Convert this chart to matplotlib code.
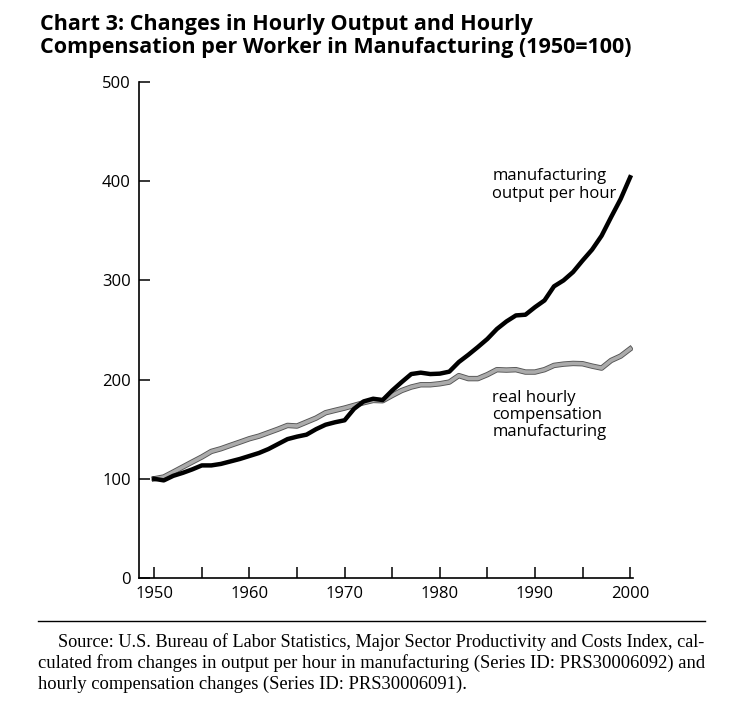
import matplotlib
matplotlib.use('Agg')
import matplotlib.pyplot as plt
import matplotlib.patheffects as pe

years = list(range(1950, 2001))

output_per_hour = [100, 98.4, 103, 106, 109.5, 113.5, 113.5, 115, 117.5, 120,
                   123, 126, 130, 135, 140, 142.5, 144.5, 150, 154.5, 157,
                   159, 170.6, 178, 180.7, 179.4, 189, 197.5, 205.6, 207, 205.6,
                   206, 208, 217.7, 225, 232.8, 241, 251, 258.6, 264.7, 265.4,
                   273, 279.8, 294, 300, 308.4, 320, 331, 345, 363.8, 382,
                   404]

real_compensation = [100, 101.8, 106.8, 111.9, 117, 122, 127.6, 130.3, 133.7, 137,
                     140.4, 143, 146.5, 150, 153.8, 153.2, 157.2, 161.2, 166.6, 169,
                     171.3, 174, 176.7, 179, 178.7, 184, 189, 192.5, 194.8, 194.8,
                     195.8, 197.5, 204, 201, 201, 205, 210, 209.6, 210, 207.6,
                     207.6, 210, 214.3, 215.6, 216.3, 216, 213.6, 211.6, 219.3, 223.7,
                     231]

yticks = [0, 100, 200, 300, 400, 500]
xticks_major = [1950, 1960, 1970, 1980, 1990, 2000]
xticks_minor = [1955, 1965, 1975, 1985, 1995]

title = ("Chart 3: Changes in Hourly Output and Hourly\n"
         "Compensation per Worker in Manufacturing (1950=100)")
source_lines = [
    "Source: U.S. Bureau of Labor Statistics, Major Sector Productivity and Costs Index, cal-",
    "culated from changes in output per hour in manufacturing (Series ID: PRS30006092) and",
    "hourly compensation changes (Series ID: PRS30006091).",
]

plt.rcParams['font.family'] = ['Open Sans', 'DejaVu Sans']

W, H = 750, 702
fig = plt.figure(figsize=(W / 100, H / 100), dpi=100)
ax = fig.add_axes([139 / W, 1 - 578 / H, (633 - 139) / W, (578 - 82) / H])

ax.plot(years, real_compensation, color='#ababab', lw=2.6,
        path_effects=[pe.Stroke(linewidth=3.9, foreground='#555555'), pe.Normal()], zorder=3)
ax.plot(years, output_per_hour, color='black', lw=3.2, zorder=4)

ax.set_xlim(1948.4, 2000.3)
ax.set_ylim(0, 500)
ax.set_yticks(yticks)
ax.set_xticks(xticks_major)
ax.set_xticks(xticks_minor, minor=True)
ax.tick_params(axis='both', which='both', direction='in', length=8, width=1.1,
               labelsize=12, pad=6, color='black')
ax.tick_params(axis='x', which='minor', labelbottom=False)
for s in ['top', 'right']:
    ax.spines[s].set_visible(False)
for s in ['left', 'bottom']:
    ax.spines[s].set_linewidth(1.2)

ax.text(1985.5, 413, "manufacturing\noutput per hour", fontsize=12, va='top', ha='left',
        linespacing=1.1)
ax.text(1985.5, 190, "real hourly\ncompensation\nmanufacturing", fontsize=12, va='top',
        ha='left', linespacing=1.1)

fig.text(40 / W, 1 - 14 / H, title, fontsize=15.5, fontweight='bold', va='top', ha='left',
         linespacing=1.1)

fig.add_artist(plt.Line2D([38 / W, 705 / W], [1 - 621 / H, 1 - 621 / H], color='black', lw=1.0))
serif = ['Liberation Serif', 'DejaVu Serif']
fig.text(58 / W, 1 - 642 / H, source_lines[0], fontsize=13.15, family=serif, va='center', ha='left')
fig.text(38 / W, 1 - 663 / H, source_lines[1], fontsize=13.4, family=serif, va='center', ha='left')
fig.text(38 / W, 1 - 684 / H, source_lines[2], fontsize=13.3, family=serif, va='center', ha='left')

plt.savefig('out.png', dpi=100)
